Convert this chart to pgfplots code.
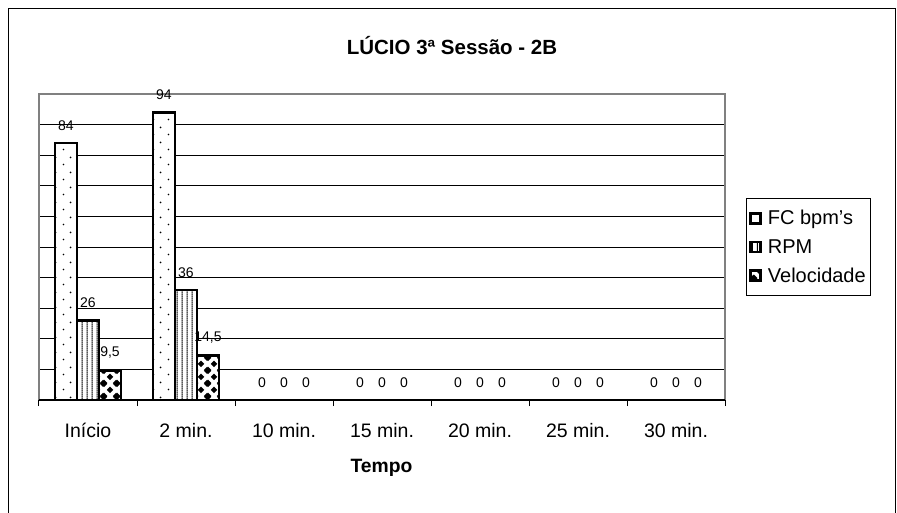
\documentclass[border=0pt]{standalone}
\usepackage{fontspec}
\setmainfont{Liberation Sans}
\usepackage{pgfplots}
\pgfplotsset{compat=1.18}
\usetikzlibrary{patterns}

% Excel-like fill patterns
\pgfdeclarepatternformonly{sparsedots}{\pgfpointorigin}{\pgfpoint{15pt}{15pt}}{\pgfpoint{15pt}{15pt}}{%
  \pgfpathcircle{\pgfpoint{3.75pt}{3.75pt}}{1pt}%
  \pgfpathcircle{\pgfpoint{11.25pt}{11.25pt}}{1pt}%
  \pgfusepath{fill}}
\pgfdeclarepatternformonly{vlines}{\pgfpointorigin}{\pgfpoint{5pt}{2pt}}{\pgfpoint{5pt}{2pt}}{%
  \pgfpathrectangle{\pgfpoint{2pt}{-0.5pt}}{\pgfpoint{1.1pt}{3pt}}%
  \pgfusepath{fill}}
\pgfdeclarepatternformonly{diamonds}{\pgfpointorigin}{\pgfpoint{13pt}{13pt}}{\pgfpoint{13pt}{13pt}}{%
  \pgfpathmoveto{\pgfpoint{6.5pt}{3pt}}\pgfpathlineto{\pgfpoint{10pt}{6.5pt}}%
  \pgfpathlineto{\pgfpoint{6.5pt}{10pt}}\pgfpathlineto{\pgfpoint{3pt}{6.5pt}}\pgfpathclose
  \pgfpathmoveto{\pgfpoint{0pt}{-3.5pt}}\pgfpathlineto{\pgfpoint{3.5pt}{0pt}}%
  \pgfpathlineto{\pgfpoint{0pt}{3.5pt}}\pgfpathlineto{\pgfpoint{-3.5pt}{0pt}}\pgfpathclose
  \pgfpathmoveto{\pgfpoint{13pt}{-3.5pt}}\pgfpathlineto{\pgfpoint{16.5pt}{0pt}}%
  \pgfpathlineto{\pgfpoint{13pt}{3.5pt}}\pgfpathlineto{\pgfpoint{9.5pt}{0pt}}\pgfpathclose
  \pgfpathmoveto{\pgfpoint{0pt}{9.5pt}}\pgfpathlineto{\pgfpoint{3.5pt}{13pt}}%
  \pgfpathlineto{\pgfpoint{0pt}{16.5pt}}\pgfpathlineto{\pgfpoint{-3.5pt}{13pt}}\pgfpathclose
  \pgfpathmoveto{\pgfpoint{13pt}{9.5pt}}\pgfpathlineto{\pgfpoint{16.5pt}{13pt}}%
  \pgfpathlineto{\pgfpoint{13pt}{16.5pt}}\pgfpathlineto{\pgfpoint{9.5pt}{13pt}}\pgfpathclose
  \pgfusepath{fill}}

\pgfplotsset{
  legsq/.style={legend image code/.code={%
    \draw[black, line width=2.2pt, fill=white] (0pt,-5pt) rectangle (10pt,5pt);
    \fill[pattern=#1] (0pt,-5pt) rectangle (10pt,5pt);
    \path (14pt,0pt);}},
}

\begin{document}
\begin{tikzpicture}
\useasboundingbox (0,0) rectangle (897pt,512pt);
\clip (0,0) rectangle (897pt,512pt);
\draw[line width=1.5pt] (8.5pt,-10pt) rectangle (895.5pt,503.5pt);

\node[font=\bfseries\fontsize{20.5}{24}\selectfont] at (452pt,466pt) {LÚCIO 3ª Sessão - 2B};
\node[font=\bfseries\fontsize{19.3}{23}\selectfont] at (381.5pt,44pt) {Tempo};

\begin{axis}[
    at={(39pt,112pt)}, anchor=south west,
    scale only axis, width=686pt, height=306pt,
    ybar=0pt, bar width=22pt,
    xmin=-0.5, xmax=6.5, ymin=0, ymax=100,
    xtick={0,...,6},
    xticklabels={Início,2 min.,10 min.,15 min.,20 min.,25 min.,30 min.},
    xtick pos=bottom,
    major tick length=0pt,
    extra x ticks={-0.5,0.5,1.5,2.5,3.5,4.5,5.5,6.5},
    extra x tick labels={},
    extra x tick style={tick align=outside, major tick length=6pt,
        tick style={black, line width=1pt}, grid=none},
    xticklabel style={font=\fontsize{19.5}{23}\selectfont, anchor=base, yshift=-37pt},
    ytick={10,20,...,90}, yticklabels={},
    ymajorgrids, grid style={black, line width=0.8pt},
    axis line style={draw=gray, line width=2pt},
    nodes near coords,
    every node near coord/.append style={font=\fontsize{14}{16}\selectfont,
        black, anchor=south, yshift=8pt},
    /pgf/number format/.cd, use comma, assume math mode=true,
    /pgfplots/.cd,
    legend style={at={(1.0306,0.660)}, anchor=north west, draw=black,
        line width=0.8pt, font=\fontsize{20}{24}\selectfont,
        row sep=11pt, inner xsep=3pt, inner ysep=11pt,
        nodes={inner ysep=1pt}},
    legend cell align=left,
]
\addplot[draw=black, line width=2.5pt, preaction={fill=white}, pattern=sparsedots, legsq=sparsedots]
  coordinates {(0,84) (1,94) (2,0) (3,0) (4,0) (5,0) (6,0)};
\addplot[draw=black, line width=2.5pt, preaction={fill=white}, pattern=vlines, legsq=vlines]
  coordinates {(0,26) (1,36) (2,0) (3,0) (4,0) (5,0) (6,0)};
\addplot[draw=black, line width=2.5pt, preaction={fill=white}, pattern=diamonds, legsq=diamonds]
  coordinates {(0,9.5) (1,14.5) (2,0) (3,0) (4,0) (5,0) (6,0)};
\legend{FC bpm's, RPM, Velocidade}
\draw[black, line width=1.2pt] (axis cs:-0.5,0) -- (axis cs:6.5,0);
\end{axis}
\end{tikzpicture}
\end{document}
